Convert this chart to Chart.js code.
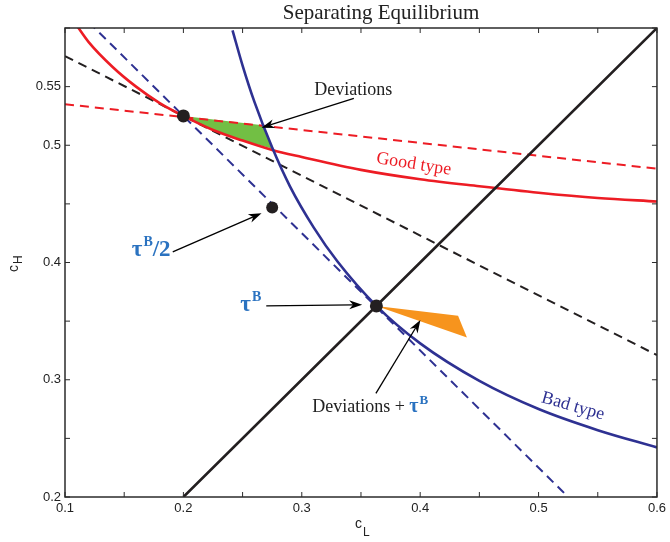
<!DOCTYPE html>
<html>
<head>
<meta charset="utf-8">
<script src="https://cdn.jsdelivr.net/npm/chart.js@4.4.1/dist/chart.umd.min.js"></script>
<style>
  html, body { margin: 0; padding: 0; background: #fff; }
</style>
</head>
<body>
<canvas id="myChart" width="670" height="542"></canvas>
<script>
// tick positions / labels
const xTicks = [0.1, 0.15, 0.2, 0.25, 0.3, 0.35, 0.4, 0.45, 0.5, 0.55, 0.6];
const xTickLabels = ['0.1', '', '0.2', '', '0.3', '', '0.4', '', '0.5', '', '0.6'];
const yTicks = [0.2, 0.25, 0.3, 0.35, 0.4, 0.45, 0.5, 0.55, 0.6];
const yTickLabels = ['0.2', '', '0.3', '', '0.4', '', '0.5', '0.55', ''];

// good type curve (red)
const goodX = [0.11, 0.12, 0.14, 0.16, 0.18, 0.2, 0.225, 0.25, 0.275, 0.3, 0.35, 0.4, 0.45, 0.5, 0.55, 0.6];
const goodY = [0.602, 0.588, 0.567, 0.550, 0.536, 0.525, 0.513, 0.504, 0.496, 0.490, 0.479, 0.471, 0.465, 0.4595, 0.455, 0.452];

// bad type curve (blue)
const badX = [0.2415, 0.25, 0.26, 0.275, 0.29, 0.31, 0.33, 0.363, 0.4, 0.45, 0.5, 0.55, 0.6];
const badY = [0.598, 0.568, 0.537, 0.498, 0.465, 0.430, 0.401, 0.363, 0.331, 0.299, 0.275, 0.257, 0.2423];

// straight lines
const diagX = [0.2, 0.6], diagY = [0.2, 0.6];
const redDashX = [0.1, 0.6], redDashY = [0.535, 0.480];
const blackDashX = [0.1, 0.6], blackDashY = [0.576, 0.321];
const blueDashX = [0.12, 0.522], blueDashY = [0.605, 0.203];

// shaded deviation regions
const greenX = [0.2, 0.267, 0.2755, 0.25, 0.225, 0.2];
const greenY = [0.525, 0.517, 0.497, 0.504, 0.513, 0.525];
const orangeX = [0.363, 0.432, 0.4395, 0.363];
const orangeY = [0.363, 0.3546, 0.336, 0.363];

// equilibrium points
const dotX = [0.2, 0.275, 0.363];
const dotY = [0.525, 0.447, 0.363];

const pts = (xs, ys) => xs.map((v, i) => ({x: v, y: ys[i]}));

const RED = '#ed1c24', NAVY = '#2e3192', BLK = '#231f20', TAU = '#2a72c0';

function line(ds, xs, ys, color, width, dash) {
  return Object.assign({
    data: pts(xs, ys), borderColor: color, borderWidth: width,
    borderDash: dash || [], pointRadius: 0, fill: false, clip: 0,
    cubicInterpolationMode: 'monotone'
  }, ds);
}

const serif = '"Liberation Serif", "DejaVu Serif", serif';
const sans = '"Liberation Sans", Arial, sans-serif';

function arrow(ctx, x1, y1, x2, y2) {
  const a = Math.atan2(y2 - y1, x2 - x1), L = 13, W = 4.5;
  const c = Math.cos(a), s = Math.sin(a);
  ctx.beginPath();
  ctx.moveTo(x1, y1);
  ctx.lineTo(x2 - c * L * 0.7, y2 - s * L * 0.7);
  ctx.stroke();
  ctx.beginPath();
  ctx.moveTo(x2, y2);
  ctx.lineTo(x2 - L * c + W * s, y2 - L * s - W * c);
  ctx.lineTo(x2 - 0.7 * L * c, y2 - 0.7 * L * s);
  ctx.lineTo(x2 - L * c - W * s, y2 - L * s + W * c);
  ctx.closePath();
  ctx.fill();
}

// draws tau^B (+ optional tail) starting at x, returns end x
function tauB(ctx, x, y, tail, big, small) {
  ctx.fillStyle = TAU;
  ctx.textAlign = 'left';
  ctx.font = 'bold ' + big + 'px ' + serif;
  ctx.fillText('τ', x, y);
  x += ctx.measureText('τ').width + 1;
  ctx.font = 'bold ' + small + 'px ' + serif;
  ctx.fillText('B', x, y - big * 0.42);
  x += ctx.measureText('B').width;
  if (tail) {
    ctx.font = 'bold ' + big + 'px ' + serif;
    ctx.fillText(tail, x, y);
    x += ctx.measureText(tail).width;
  }
  return x;
}
function tauWidth(ctx, tail, big, small) {
  ctx.font = 'bold ' + big + 'px ' + serif;
  let w = ctx.measureText('τ').width + 1 + (tail ? ctx.measureText(tail).width : 0);
  ctx.font = 'bold ' + small + 'px ' + serif;
  return w + ctx.measureText('B').width;
}

const notes = {
  id: 'notes',
  afterDraw(chart) {
    const {ctx, chartArea: a, scales: {x, y}} = chart;
    const px = v => x.getPixelForValue(v), py = v => y.getPixelForValue(v);
    ctx.save();

    // box + inward ticks
    ctx.strokeStyle = '#2b2b2b';
    ctx.lineWidth = 1.5;
    ctx.strokeRect(a.left, a.top, a.right - a.left, a.bottom - a.top);
    ctx.lineWidth = 1;
    ctx.beginPath();
    xTicks.forEach(v => {
      const X = px(v);
      ctx.moveTo(X, a.bottom); ctx.lineTo(X, a.bottom - 5);
      ctx.moveTo(X, a.top); ctx.lineTo(X, a.top + 5);
    });
    yTicks.forEach(v => {
      const Y = py(v);
      ctx.moveTo(a.left, Y); ctx.lineTo(a.left + 5, Y);
      ctx.moveTo(a.right, Y); ctx.lineTo(a.right - 5, Y);
    });
    ctx.stroke();

    // title
    ctx.fillStyle = '#222';
    ctx.font = '21px ' + serif;
    ctx.textAlign = 'center';
    ctx.textBaseline = 'alphabetic';
    ctx.fillText('Separating Equilibrium', 381, 19);

    // axis labels
    ctx.font = '14px ' + sans;
    ctx.textAlign = 'left';
    ctx.fillText('c', 355, 528);
    ctx.font = '12px ' + sans;
    ctx.fillText('L', 363, 536);
    ctx.save();
    ctx.translate(18, 272);
    ctx.rotate(-Math.PI / 2);
    ctx.font = '14px ' + sans;
    ctx.fillText('c', 0, 0);
    ctx.font = '12px ' + sans;
    ctx.fillText('H', 8, 4);
    ctx.restore();

    // arrows
    ctx.strokeStyle = '#000';
    ctx.fillStyle = '#000';
    ctx.lineWidth = 1.3;
    arrow(ctx, px(0.344), py(0.540), px(0.266), py(0.515));
    arrow(ctx, px(0.191), py(0.409), px(0.266), py(0.442));
    arrow(ctx, px(0.270), py(0.363), px(0.351), py(0.364));
    arrow(ctx, px(0.3626), py(0.2884), px(0.4002), py(0.351));

    // text labels
    ctx.fillStyle = '#222';
    ctx.font = '18px ' + serif;
    ctx.textAlign = 'center';
    ctx.fillText('Deviations', px(0.3435), py(0.543));

    ctx.textAlign = 'left';
    const dx = px(0.3088), dy = py(0.2722);
    ctx.fillText('Deviations + ', dx, dy);
    const w = ctx.measureText('Deviations + ').width;
    tauB(ctx, dx + w, dy, '', 20, 13);

    const w1 = tauWidth(ctx, '/2', 23, 14);
    tauB(ctx, px(0.1892) - w1, py(0.4056), '/2', 23, 14);
    const w2 = tauWidth(ctx, '', 23, 14);
    tauB(ctx, px(0.2658) - w2, py(0.3589), '', 23, 14);

    ctx.textAlign = 'center';
    ctx.textBaseline = 'middle';
    ctx.font = '18px ' + serif;
    ctx.save();
    ctx.translate(px(0.3946), py(0.4838));
    ctx.rotate(9 * Math.PI / 180);
    ctx.fillStyle = RED;
    ctx.fillText('Good type', 0, 0);
    ctx.restore();
    ctx.save();
    ctx.translate(px(0.529), py(0.2773));
    ctx.rotate(16 * Math.PI / 180);
    ctx.fillStyle = NAVY;
    ctx.fillText('Bad type', 0, 0);
    ctx.restore();

    ctx.restore();
  }
};

new Chart('myChart', {
  type: 'line',
  data: {
    datasets: [
      {data: pts(dotX, dotY), showLine: false, pointRadius: [6.5, 6, 6.5],
       pointBackgroundColor: BLK, pointBorderWidth: 0, borderColor: BLK},
      line({}, diagX, diagY, BLK, 2.6),
      line({}, badX, badY, NAVY, 2.6),
      line({}, goodX, goodY, RED, 2.6),
      line({}, blueDashX, blueDashY, NAVY, 2, [9, 6]),
      line({}, blackDashX, blackDashY, BLK, 2, [9, 6]),
      line({}, redDashX, redDashY, RED, 2, [9, 6]),
      {data: pts(greenX, greenY), borderWidth: 0, pointRadius: 0, tension: 0,
       fill: 'shape', backgroundColor: '#72bf44', borderColor: 'rgba(0,0,0,0)'},
      {data: pts(orangeX, orangeY), borderWidth: 0, pointRadius: 0, tension: 0,
       fill: 'shape', backgroundColor: '#f7941d', borderColor: 'rgba(0,0,0,0)'}
    ]
  },
  options: {
    responsive: false,
    animation: false,
    events: [],
    layout: {padding: {top: 28, right: 11, left: 0, bottom: 0}},
    plugins: {legend: {display: false}, tooltip: {enabled: false}, title: {display: false}},
    scales: {
      x: {
        type: 'linear', min: 0.1, max: 0.6,
        afterBuildTicks: s => { s.ticks = xTicks.map(v => ({value: v})); },
        afterFit: s => { s.height = 45; },
        grid: {display: false, drawTicks: false},
        border: {display: false},
        ticks: {
          padding: 4, color: '#222', font: {family: sans, size: 13}, maxRotation: 0, autoSkip: false,
          callback: (v, i) => xTickLabels[i]
        }
      },
      y: {
        type: 'linear', min: 0.2, max: 0.6,
        afterBuildTicks: s => { s.ticks = yTicks.map(v => ({value: v})); },
        afterFit: s => { s.width = 65; },
        grid: {display: false, drawTicks: false},
        border: {display: false},
        ticks: {
          padding: 4, color: '#222', font: {family: sans, size: 13}, autoSkip: false,
          callback: (v, i) => yTickLabels[i]
        }
      }
    }
  },
  plugins: [notes]
});
</script>
</body>
</html>
